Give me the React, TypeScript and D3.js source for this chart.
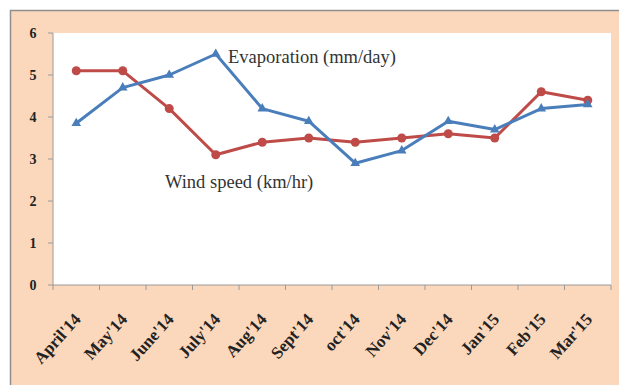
import React from "react";
import * as d3 from "d3";

const months = ["April'14", "May'14", "June'14", "July'14", "Aug'14", "Sept'14", "oct'14", "Nov'14", "Dec'14", "Jan'15", "Feb'15", "Mar'15"];
const evaporation = [3.85, 4.7, 5.0, 5.5, 4.2, 3.9, 2.9, 3.2, 3.9, 3.7, 4.2, 4.3];
const windSpeed = [5.1, 5.1, 4.2, 3.1, 3.4, 3.5, 3.4, 3.5, 3.6, 3.5, 4.6, 4.4];
const yTicks = [0, 1, 2, 3, 4, 5, 6];

const W = 619;
const H = 385;
const plot = { left: 53, right: 611, top: 33, bottom: 285 };

const BLUE = "#4a7ebb";
const RED = "#be4b48";
const FONT = "'Liberation Serif', 'DejaVu Serif', serif";

export default function App() {
  const x = d3.scaleBand<string>().domain(months).range([plot.left, plot.right]);
  const y = d3.scaleLinear().domain([0, 6]).range([plot.bottom, plot.top]);
  const cx = (m: string) => (x(m) ?? 0) + x.bandwidth() / 2;

  const line = d3
    .line<number>()
    .x((_, i) => cx(months[i]))
    .y((d) => y(d));

  const tri = d3.symbol().type(d3.symbolTriangle).size(40)();

  return (
    <svg width={W} height={H} style={{ position: "absolute", left: 0, top: 0, display: "block" }}>
      <rect x={0} y={0} width={W} height={H} fill="#ffffff" />
      {/* chart frame */}
      <rect x={10.5} y={10.5} width={W} height={H} fill="#fbd7bb" stroke="#8f8f8f" strokeWidth={1.5} />
      {/* plot area */}
      <rect x={plot.left} y={plot.top} width={plot.right - plot.left} height={plot.bottom - plot.top} fill="#ffffff" />

      {/* y axis */}
      <line x1={plot.left} x2={plot.left} y1={plot.top} y2={plot.bottom} stroke="#9a9a9a" strokeWidth={1} />
      {yTicks.map((t) => (
        <g key={t}>
          <line x1={plot.left - 5} x2={plot.left} y1={y(t)} y2={y(t)} stroke="#9a9a9a" />
          <text x={33} y={y(t)} dy="0.35em" textAnchor="middle" fontFamily={FONT} fontWeight="bold" fontSize={14} fill="#222">
            {t}
          </text>
        </g>
      ))}

      {/* x axis */}
      <line x1={plot.left} x2={plot.right} y1={plot.bottom} y2={plot.bottom} stroke="#9a9a9a" strokeWidth={1} />
      {months.map((m, i) => (
        <line
          key={"t" + m}
          x1={plot.left + i * x.step()}
          x2={plot.left + i * x.step()}
          y1={plot.bottom}
          y2={plot.bottom + 5}
          stroke="#9a9a9a"
        />
      ))}
      <line x1={plot.right} x2={plot.right} y1={plot.bottom} y2={plot.bottom + 5} stroke="#9a9a9a" />
      {months.map((m) => (
        <text
          key={"l" + m}
          transform={`translate(${cx(m) + 1},${plot.bottom + 31}) rotate(-48)`}
          textAnchor="end"
          dy="0.35em"
          fontFamily={FONT}
          fontWeight="bold"
          fontSize={17}
          fill="#222"
        >
          {m}
        </text>
      ))}

      {/* series */}
      <path d={line(windSpeed) ?? ""} fill="none" stroke={RED} strokeWidth={3} strokeLinejoin="round" />
      <path d={line(evaporation) ?? ""} fill="none" stroke={BLUE} strokeWidth={3} strokeLinejoin="round" />
      {windSpeed.map((v, i) => (
        <circle key={"w" + i} cx={cx(months[i])} cy={y(v)} r={4.5} fill={RED} />
      ))}
      {evaporation.map((v, i) => (
        <path key={"e" + i} d={tri ?? ""} transform={`translate(${cx(months[i])},${y(v)})`} fill={BLUE} />
      ))}

      {/* series labels */}
      <text x={228} y={63} fontFamily={FONT} fontSize={18.5} fill="#333">
        Evaporation (mm/day)
      </text>
      <text x={165} y={188} fontFamily={FONT} fontSize={18.5} fill="#333">
        Wind speed (km/hr)
      </text>
    </svg>
  );
}
